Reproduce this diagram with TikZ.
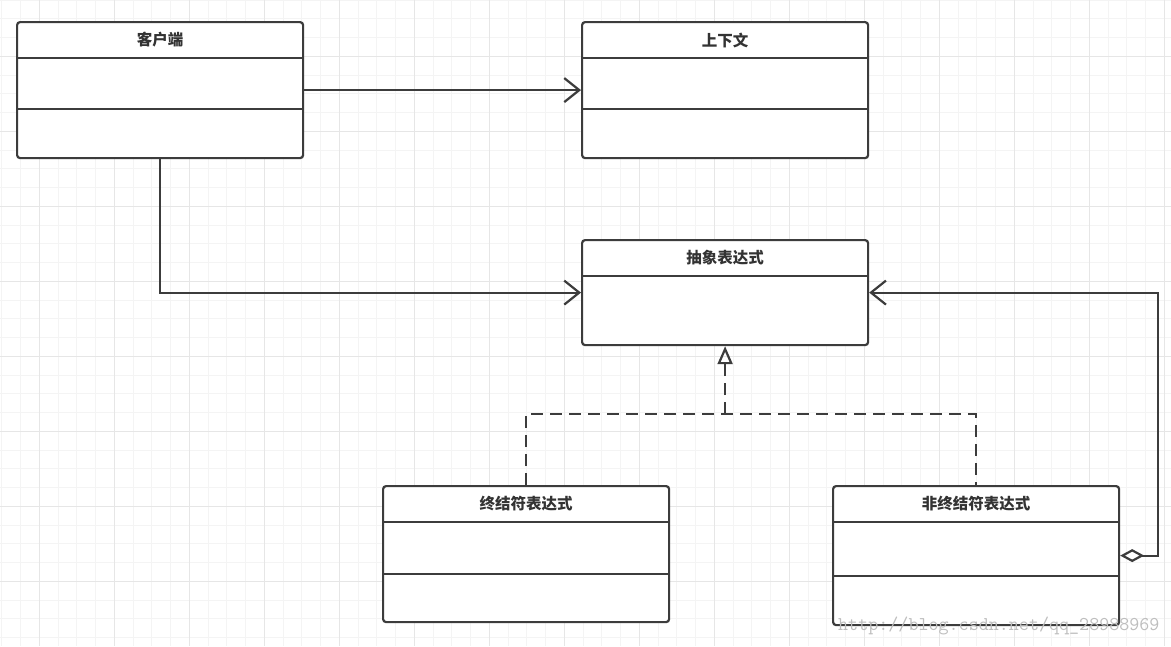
\documentclass[tikz,border=0pt]{standalone}
\usepackage{fontspec}
\newfontfamily\cjk{Noto Sans CJK SC}
\usetikzlibrary{arrows.meta,calc}
\definecolor{linegray}{HTML}{3C3C3C}
\definecolor{textgray}{HTML}{333333}
\definecolor{minorgrid}{HTML}{F4F4F4}
\definecolor{majorgrid}{HTML}{E6E6E6}
\definecolor{markgray}{HTML}{BEBEBE}
\begin{document}
\begin{tikzpicture}[x=1pt,y=-1pt]
  \tikzset{
    umlclass/.style={draw=linegray,line width=2.2pt,rounded corners=3pt,fill=white,
      anchor=north west,inner sep=0pt,minimum width=286pt},
    classname/.style={text=textgray,inner sep=0pt,
      font=\cjk\bfseries\fontsize{15.5}{16}\selectfont},
    divider/.style={draw=linegray,line width=2.2pt},
    assoc/.style={draw=linegray,line width=2.2pt,
      -{Straight Barb[length=15pt,width=24pt,line width=2.2pt]}},
    realize/.style={draw=linegray,line width=2.2pt,dash pattern=on 12pt off 7pt},
  }
  \useasboundingbox (0,0) rectangle (1171,646);
  \fill[white] (0,0) rectangle (1171,646);
  % background grid
  \foreach \gx in {1.8,20.55,...,1171} \draw[minorgrid,line width=.8pt] (\gx,0) -- (\gx,646);
  \foreach \gy in {0,18.75,...,646} \draw[minorgrid,line width=.8pt] (0,\gy) -- (1171,\gy);
  \foreach \gx in {39.3,114.3,...,1171} \draw[majorgrid,line width=.8pt] (\gx,0) -- (\gx,646);
  \foreach \gy in {56.3,131.3,...,646} \draw[majorgrid,line width=.8pt] (0,\gy) -- (1171,\gy);

  % classes
  \node[umlclass,minimum height=136pt] (client) at (16,21) {};
  \node[classname] (client-name) at ($(client.north)+(0,19)$) {客户端};
  \draw[divider] ($(client.north west)+(0,37)$) -- ($(client.north east)+(0,37)$);
  \draw[divider] ($(client.north west)+(0,88)$) -- ($(client.north east)+(0,88)$);

  \node[umlclass,minimum height=136pt] (context) at (581,21) {};
  \node[classname] (context-name) at ($(context.north)+(0,19)$) {上下文};
  \draw[divider] ($(context.north west)+(0,37)$) -- ($(context.north east)+(0,37)$);
  \draw[divider] ($(context.north west)+(0,88)$) -- ($(context.north east)+(0,88)$);

  \node[umlclass,minimum height=105pt] (abstract) at (581,239) {};
  \node[classname] (abstract-name) at ($(abstract.north)+(0,19)$) {抽象表达式};
  \draw[divider] ($(abstract.north west)+(0,37)$) -- ($(abstract.north east)+(0,37)$);

  \node[umlclass,minimum height=136pt] (term) at (382,485) {};
  \node[classname] (term-name) at ($(term.north)+(0,19)$) {终结符表达式};
  \draw[divider] ($(term.north west)+(0,37)$) -- ($(term.north east)+(0,37)$);
  \draw[divider] ($(term.north west)+(0,89)$) -- ($(term.north east)+(0,89)$);

  \node[umlclass,minimum height=139pt] (nonterm) at (832,485) {};
  \node[classname] (nonterm-name) at ($(nonterm.north)+(0,19)$) {非终结符表达式};
  \draw[divider] ($(nonterm.north west)+(0,37)$) -- ($(nonterm.north east)+(0,37)$);
  \draw[divider] ($(nonterm.north west)+(0,91)$) -- ($(nonterm.north east)+(0,91)$);

  % relations
  \draw[assoc] (client.east) -- (context.west);
  \draw[assoc] (client.south) |- (abstract.west);
  \coordinate (join) at (abstract.south |- 0,414);
  \draw[realize] (term.north) |- (join) -| (nonterm.north);
  \draw[realize,-{Triangle[open,length=18pt,width=15pt,line width=2.2pt]}] (join) -- (abstract.south);
  \draw[assoc,{Diamond[open,length=24pt,width=13pt,line width=2.2pt]}-{Straight Barb[length=15pt,width=24pt,line width=2.2pt]}]
    (nonterm.east) -- ++(38,0) |- (abstract.east);

  \node[anchor=west,inner sep=0pt,text=markgray,
    font=\ttfamily\fontsize{19.5}{20}\selectfont] (watermark) at (838,626) {http://blog.csdn.net/qq\_28988969};
\end{tikzpicture}
\end{document}
